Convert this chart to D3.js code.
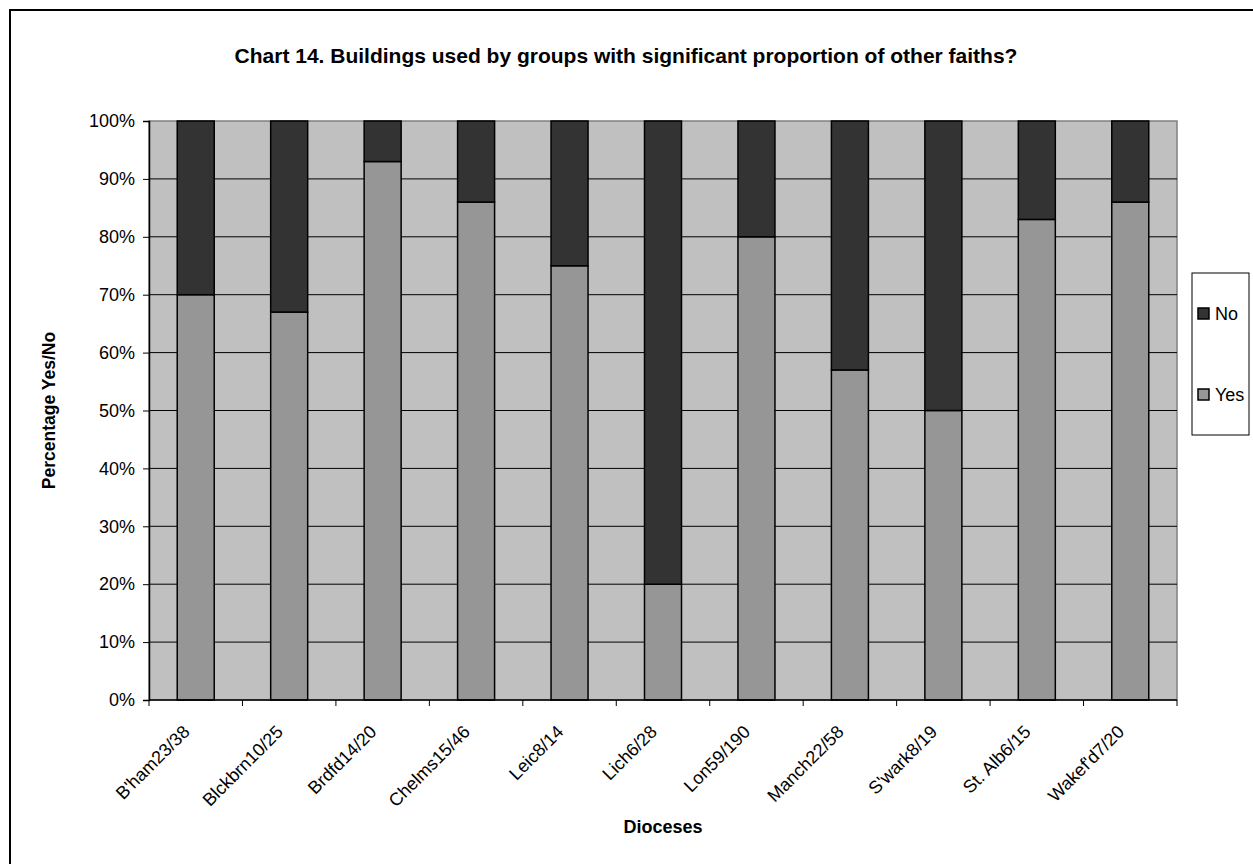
<!DOCTYPE html>
<html>
<head>
<meta charset="utf-8">
<script src="https://cdn.jsdelivr.net/npm/d3@7"></script>
<style>
  body { margin: 0; background: #fff; }
  text { font-family: "Liberation Sans", Arial, sans-serif; fill: #000; }
</style>
</head>
<body>
<div id="content"></div>
<script>
var dioceses = ["B'ham23/38", "Blckbrn10/25", "Brdfd14/20", "Chelms15/46", "Leic8/14",
                "Lich6/28", "Lon59/190", "Manch22/58", "S'wark8/19", "St. Alb6/15", "Wakef'd7/20"];
var yes = [70, 67, 93, 86, 75, 20, 80, 57, 50, 83, 86];
var no = [30, 33, 7, 14, 25, 80, 20, 43, 50, 17, 14];
var yTicks = [0, 10, 20, 30, 40, 50, 60, 70, 80, 90, 100];

var w = 1253;
var h = 864;

var svg = d3.select("#content")
            .append("svg")
            .attr("width", w)
            .attr("height", h)
            .style("display", "block");

// outer frame (right and bottom edges fall outside the picture)
svg.append("rect")
   .attr("x", 10).attr("y", 10)
   .attr("width", 1260).attr("height", 880)
   .attr("fill", "#fff")
   .attr("stroke", "#000")
   .attr("stroke-width", 2);

var pLeft = 149, pRight = 1177, pTop = 121, pBottom = 700;

var x = d3.scaleBand()
          .domain(dioceses)
          .range([pLeft, pRight])
          .paddingInner(0)
          .paddingOuter(0);

var y = d3.scaleLinear()
          .domain([0, 100])
          .range([pBottom, pTop]);

// plot background
svg.append("rect")
   .attr("x", pLeft).attr("y", pTop)
   .attr("width", pRight - pLeft).attr("height", pBottom - pTop)
   .attr("fill", "#c0c0c0")
   .attr("stroke", "#808080")
   .attr("stroke-width", 1.5);

// gridlines
svg.selectAll("line.grid")
   .data(yTicks.slice(1, -1))
   .enter()
   .append("line")
   .attr("class", "grid")
   .attr("x1", pLeft).attr("x2", pRight)
   .attr("y1", function(d) { return y(d); })
   .attr("y2", function(d) { return y(d); })
   .attr("stroke", "#000")
   .attr("stroke-width", 1);

var barW = 37;

var data = dioceses.map(function(d, i) { return {name: d, yes: yes[i], no: no[i]}; });

var bars = svg.selectAll("g.bar")
   .data(data)
   .enter()
   .append("g")
   .attr("class", "bar");

bars.append("rect")
    .attr("x", function(d) { return x(d.name) + x.bandwidth() / 2 - barW / 2; })
    .attr("y", function(d) { return y(d.yes); })
    .attr("width", barW)
    .attr("height", function(d) { return y(0) - y(d.yes); })
    .attr("fill", "#969696")
    .attr("stroke", "#000")
    .attr("stroke-width", 1.5);

bars.append("rect")
    .attr("x", function(d) { return x(d.name) + x.bandwidth() / 2 - barW / 2; })
    .attr("y", function(d) { return y(d.yes + d.no); })
    .attr("width", barW)
    .attr("height", function(d) { return y(d.yes) - y(d.yes + d.no); })
    .attr("fill", "#333333")
    .attr("stroke", "#000")
    .attr("stroke-width", 1.5);

// y axis
var yAxis = svg.append("g")
   .attr("transform", "translate(" + pLeft + ",0)")
   .call(d3.axisLeft(y)
           .tickValues(yTicks)
           .tickSize(6)
           .tickPadding(8)
           .tickFormat(function(d) { return d + "%"; }));
yAxis.select(".domain").attr("stroke", "#000").attr("stroke-width", 1.5);
yAxis.selectAll(".tick line").attr("stroke", "#000");
yAxis.selectAll("text")
     .attr("font-size", 18)
     .attr("font-family", "Liberation Sans, Arial, sans-serif")
     .attr("fill", "#000");

// x axis: ticks at category boundaries
var boundaries = dioceses.map(function(d) { return x(d); }).concat([pRight]);
svg.append("line")
   .attr("x1", pLeft).attr("x2", pRight)
   .attr("y1", pBottom).attr("y2", pBottom)
   .attr("stroke", "#000").attr("stroke-width", 1.5);
svg.selectAll("line.xtick")
   .data(boundaries)
   .enter()
   .append("line")
   .attr("class", "xtick")
   .attr("x1", function(d) { return d; })
   .attr("x2", function(d) { return d; })
   .attr("y1", pBottom).attr("y2", pBottom + 6)
   .attr("stroke", "#000");

svg.selectAll("text.xlabel")
   .data(dioceses)
   .enter()
   .append("text")
   .attr("class", "xlabel")
   .attr("text-anchor", "end")
   .attr("font-size", 18)
   .attr("transform", function(d) {
       return "translate(" + (x(d) + x.bandwidth() / 2 - 5) + "," + (pBottom + 33) + ") rotate(-45)";
   })
   .text(function(d) { return d; });

// titles
svg.append("text")
   .attr("x", 626).attr("y", 63)
   .attr("text-anchor", "middle")
   .attr("font-size", 21)
   .attr("font-weight", "bold")
   .text("Chart 14. Buildings used by groups with significant proportion of other faiths?");

svg.append("text")
   .attr("x", (pLeft + pRight) / 2).attr("y", 833)
   .attr("text-anchor", "middle")
   .attr("font-size", 18)
   .attr("font-weight", "bold")
   .text("Dioceses");

svg.append("text")
   .attr("transform", "translate(55," + ((pTop + pBottom) / 2) + ") rotate(-90)")
   .attr("text-anchor", "middle")
   .attr("font-size", 17.5)
   .attr("font-weight", "bold")
   .text("Percentage Yes/No");

// legend
var legend = svg.append("g");
legend.append("rect")
      .attr("x", 1192).attr("y", 273)
      .attr("width", 57).attr("height", 162)
      .attr("fill", "#fff")
      .attr("stroke", "#000")
      .attr("stroke-width", 1);

var legendItems = [{label: "No", color: "#333333"}, {label: "Yes", color: "#969696"}];
var li = legend.selectAll("g.item")
      .data(legendItems)
      .enter()
      .append("g")
      .attr("class", "item")
      .attr("transform", function(d, i) { return "translate(1198," + (313 + i * 81) + ")"; });
li.append("rect")
  .attr("x", 0).attr("y", -5)
  .attr("width", 11).attr("height", 11)
  .attr("fill", function(d) { return d.color; })
  .attr("stroke", "#000")
  .attr("stroke-width", 1.5);
li.append("text")
  .attr("x", 17).attr("y", 7)
  .attr("font-size", 18)
  .text(function(d) { return d.label; });
</script>
</body>
</html>
